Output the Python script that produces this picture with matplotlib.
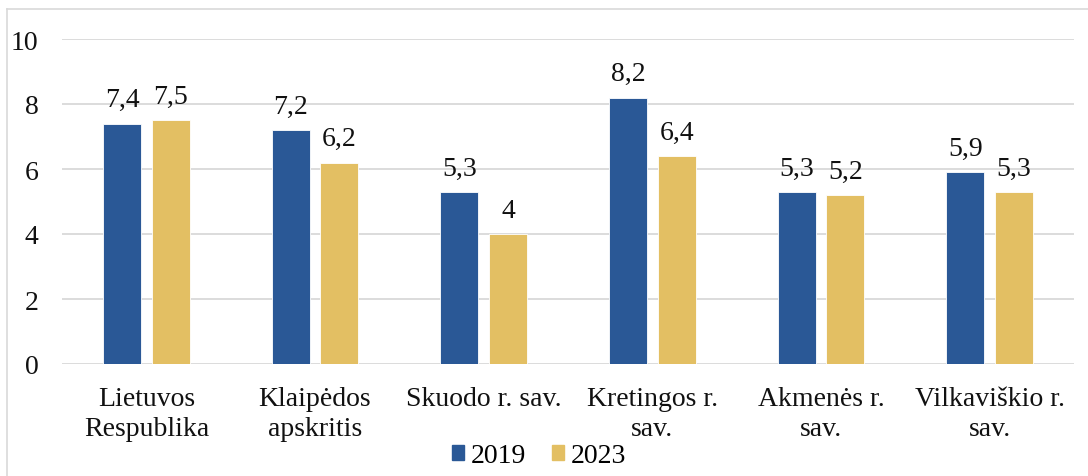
import matplotlib
matplotlib.use("Agg")
import matplotlib.pyplot as plt
import numpy as np
from matplotlib.lines import Line2D

categories = ["Lietuvos\nRespublika", "Klaipėdos\napskritis", "Skuodo r. sav.",
              "Kretingos r.\nsav.", "Akmenės r.\nsav.", "Vilkaviškio r.\nsav."]
series_names = ["2019", "2023"]
values_2019 = [7.4, 7.2, 5.3, 8.2, 5.3, 5.9]
values_2023 = [7.5, 6.2, 4.0, 6.4, 5.2, 5.3]
yticks = [0, 2, 4, 6, 8, 10]

colors = ["#2A5896", "#E3BF63"]
FS = 20

plt.rcParams['font.family'] = ['Liberation Serif', 'DejaVu Serif']

fig = plt.figure(figsize=(10.88, 4.77), dpi=100)
ax = fig.add_axes([62/1088, 1-365/477, (1074-62)/1088, (365-40)/477])

x = np.arange(len(categories))
w = 0.225
off = 0.144
for vals, c, dx, name in [(values_2019, colors[0], -off, series_names[0]),
                          (values_2023, colors[1], off, series_names[1])]:
    bars = ax.bar(x + dx, vals, width=w, color=c, edgecolor="white", linewidth=0.6,
                  label=name, zorder=3)
    for b, v in zip(bars, vals):
        lbl = ("%g" % v).replace(".", ",")
        ax.annotate(lbl, (b.get_x() + b.get_width()/2, v), xytext=(0, 8),
                    textcoords="offset points", ha="center", va="bottom",
                    fontsize=FS, color="#111111")

ax.set_xlim(-0.5, len(categories) - 0.5)
ax.set_ylim(0, 10)
ax.set_yticks(yticks)
ax.set_yticklabels([str(t) for t in yticks], fontsize=FS)
ax.set_xticks(x)
ax.set_xticklabels(categories, fontsize=FS, linespacing=1.25)
ax.tick_params(axis="both", length=0, colors="#111111")
ax.tick_params(axis="y", pad=17)
ax.tick_params(axis="x", pad=16)
ax.yaxis.grid(True, color="#D9D9D9", linewidth=1.3, zorder=0)
ax.set_axisbelow(True)
for s in ax.spines.values():
    s.set_visible(False)

handles = [plt.Rectangle((0, 0), 1, 1, color=c) for c in colors]
fig.legend(handles, series_names, loc="center", bbox_to_anchor=(539/1088, 1-457/477),
           ncol=2, frameon=False, fontsize=FS, handlelength=0.45, handleheight=0.45,
           handletextpad=0.25, columnspacing=0.9, borderpad=0)

# outer chart border (left and top visible)
fig.add_artist(Line2D([6.5/1088, 6.5/1088], [0, 1-10/477], transform=fig.transFigure,
                      color="#D9D9D9", linewidth=1.2))
fig.add_artist(Line2D([6.5/1088, 1], [1-10/477, 1-10/477], transform=fig.transFigure,
                      color="#D9D9D9", linewidth=1.2))

fig.savefig("out.png", dpi=100)
